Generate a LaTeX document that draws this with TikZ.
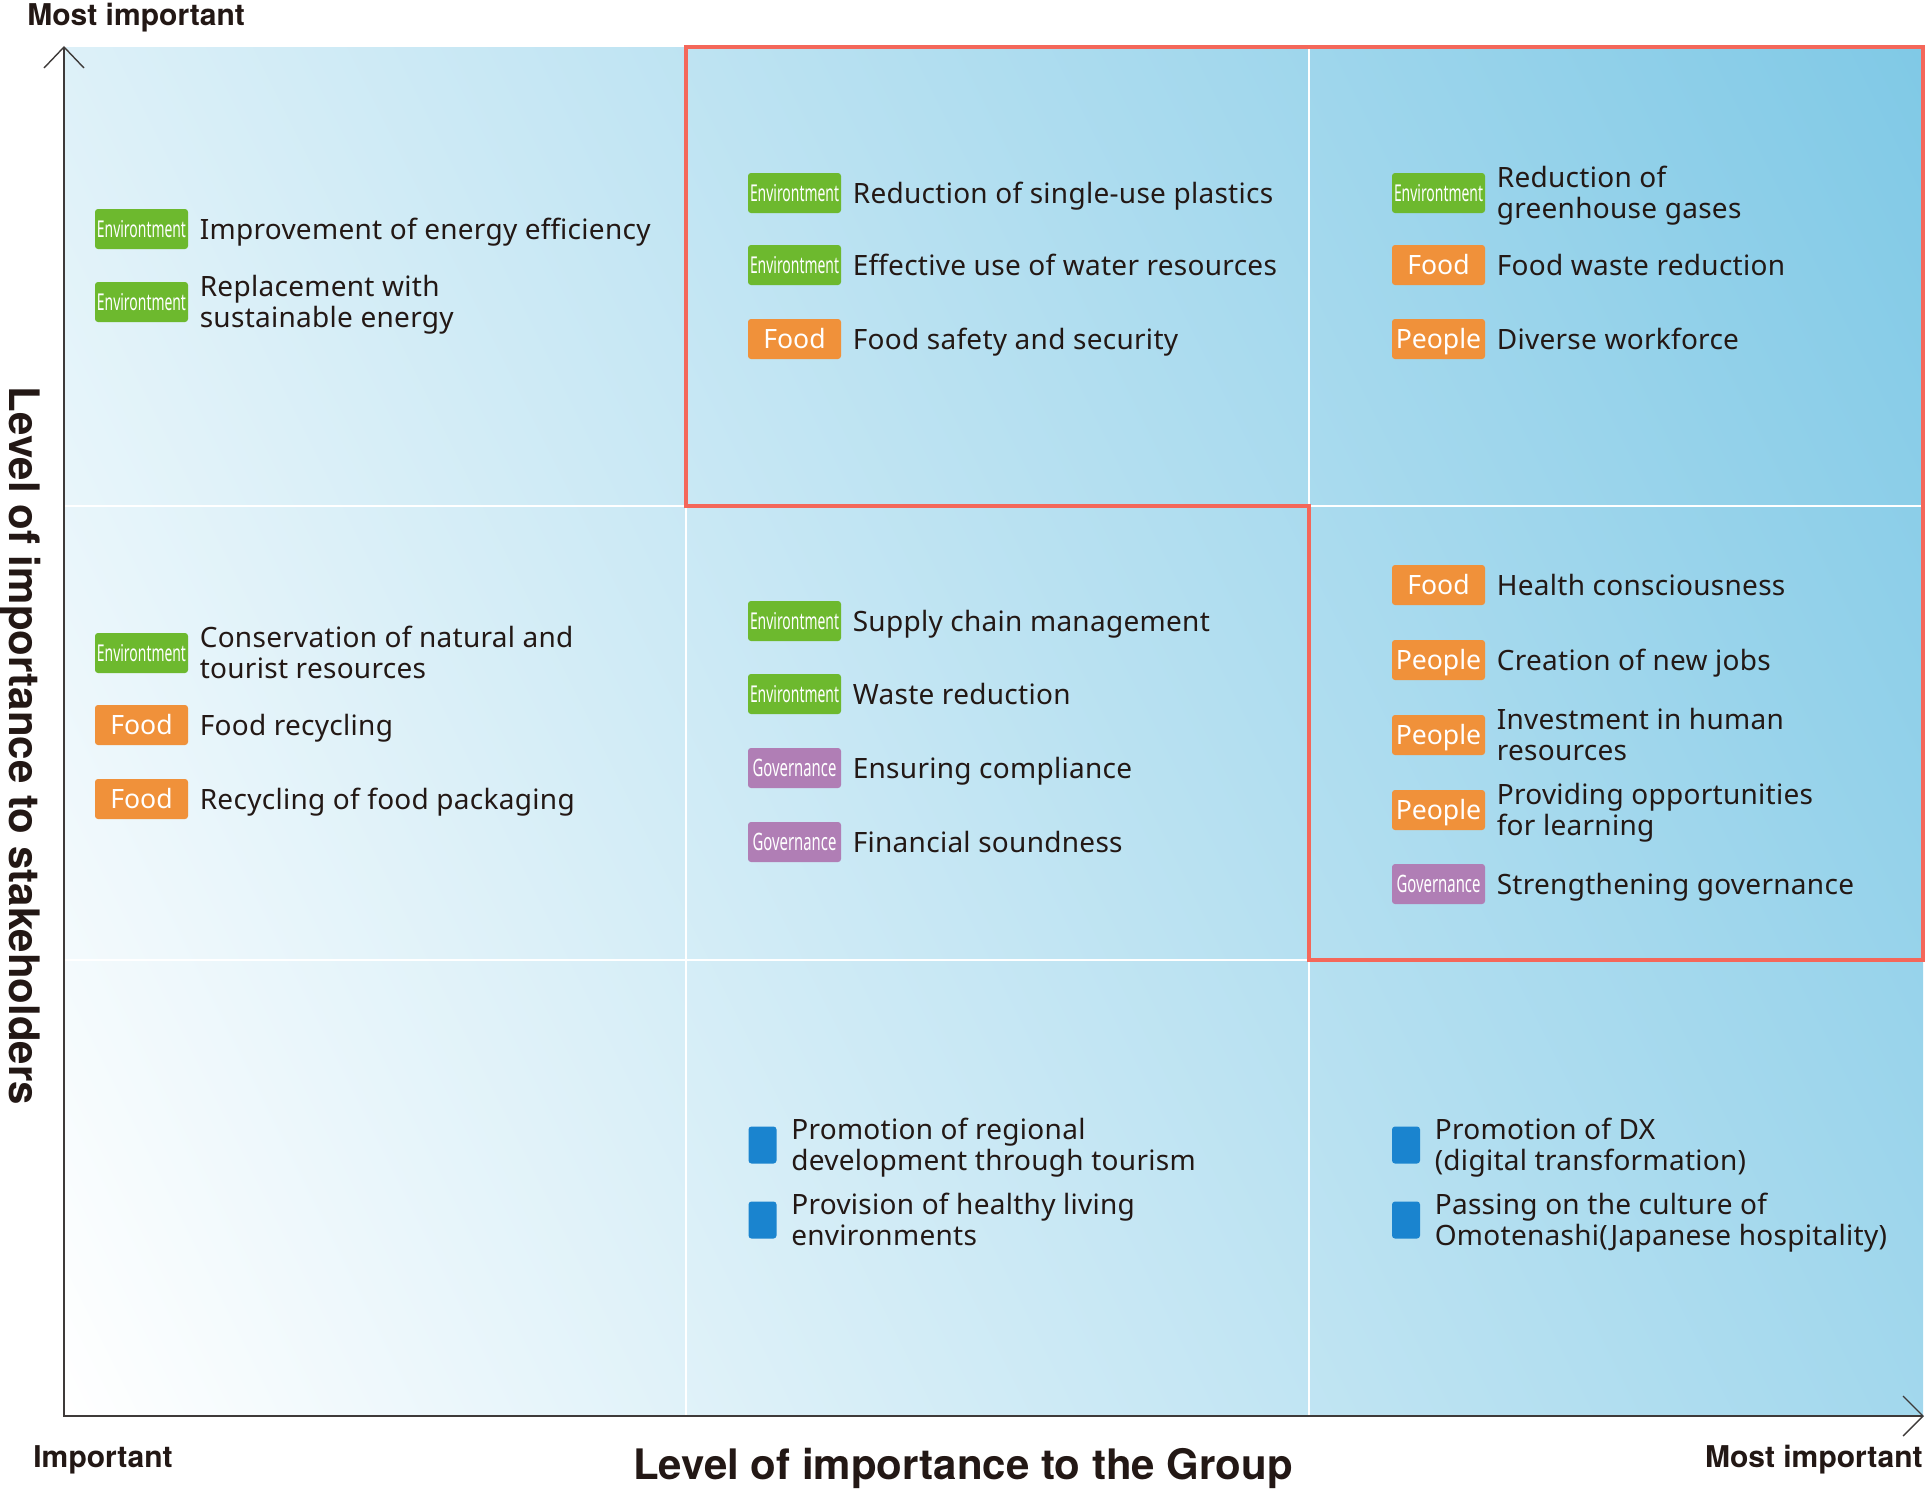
\documentclass[tikz,border=0pt]{standalone}
\usepackage{fontspec}
\usepackage{graphicx}
\setmainfont{Noto Sans}
\newfontfamily\itemfont{Noto Sans}[LetterSpace=1]
\newfontfamily\tfont{TeX Gyre Heros}
\usetikzlibrary{positioning}
\definecolor{envg}{HTML}{6DB92E}
\definecolor{foodo}{HTML}{F0913A}
\definecolor{govp}{HTML}{B07EB5}
\definecolor{bulb}{HTML}{1A84CF}
\definecolor{redl}{HTML}{F4675A}
\definecolor{txt}{HTML}{231815}
\definecolor{axisc}{HTML}{3E3A39}
\definecolor{gdark}{HTML}{80C9E6}
\newcommand\envtxt{\scalebox{0.6}[1]{Environtment}}
\newcommand\govtxt{\scalebox{0.62}[1]{Governance}}
\newcommand\bitem[5]{%
  \node[#2] (#1) at (#4) {#3};
  \node[itm] (#1t) at ([xshift=5.5pt]#1.east) {#5};
}
\newcommand\uitem[3]{%
  \node[bullet] (#1) at (#2) {};
  \node[itm] (#1t) at ([xshift=7pt]#1.east) {#3};
}
\tikzset{
  badge/.style={rounded corners=1.5pt, minimum width=46.5pt, minimum height=20pt, inner sep=0pt, text=white},
  envb/.style={badge, fill=envg, font=\fontsize{11.6}{11.6}\selectfont, text height=8.2pt, text depth=0pt},
  foodb/.style={badge, fill=foodo, font=\fontsize{13.3}{13.3}\selectfont, text height=9.5pt, text depth=0pt},
  govb/.style={badge, fill=govp, font=\fontsize{12}{12}\selectfont, text height=8.6pt, text depth=0pt},
  bullet/.style={rounded corners=1.5pt, minimum width=14pt, minimum height=18.5pt, inner sep=0pt, fill=bulb},
  itm/.style={anchor=west, inner sep=0pt, text=txt, align=left, yshift=-1.9pt,
    font=\itemfont\fontsize{14}{15.5}\selectfont, execute at begin node=\strut, execute at end node=\strut},
  small/.style={inner sep=0pt, text=txt, font=\fontsize{15}{17}\selectfont\tfont\bfseries},
  big/.style={inner sep=0pt, text=txt, font=\fontsize{21}{24}\selectfont\tfont\bfseries},
  gridl/.style={white, line width=1pt},
  axl/.style={axisc, line width=1pt},
  tipl/.style={axisc, line width=0.7pt},
}
\begin{document}
\begin{tikzpicture}[x=0.5pt,y=-0.5pt]
\useasboundingbox (0,0) rectangle (1927,1495);
% background gradient
\begin{scope}
\clip (64,47) rectangle (1923,1416);
\shade[bottom color=white, top color=gdark, shading angle=-63.43] (-143.5,-405.5) rectangle (2130.5,1868.5);
\end{scope}
% grid
\draw[gridl] (686,47) -- (686,1416);
\draw[gridl] (1309,47) -- (1309,1416);
\draw[gridl] (64,506) -- (1923,506);
\draw[gridl] (64,960) -- (1923,960);
% red outline
\draw[redl, line width=2pt, line join=miter] (686,47) -- (1923,47) -- (1923,960) -- (1309,960) -- (1309,506) -- (686,506) -- cycle;
% axes
\coordinate (O) at (64,1416);
\coordinate (Ytop) at (64,47);
\coordinate (Xend) at (1923,1416);
\draw[axl] (Ytop) -- (O) -- (Xend);
\draw[tipl] (44,68) -- (Ytop) -- (84,68);
\draw[tipl] (1903,1396) -- (Xend) -- (1903,1436);
% axis labels
\node[small, anchor=base west] (ltop) at (27,25) {Most important};
\node[small, anchor=base west] (lbl) at (33,1467) {Important};
\node[small, anchor=base east] (lbr) at (1923,1467) {Most important};
\node[big, anchor=base] (xlab) at (963,1479) {Level of importance to the Group};
\node[big, rotate=-90, anchor=base] (ylab) at (9.5,746) {Level of importance to stakeholders};
% top-left
\bitem{b11}{envb}{\envtxt}{141.5,229}{Improvement of energy efficiency}
\bitem{b12}{envb}{\envtxt}{141.5,302}{Replacement with\\sustainable energy}
% top-middle
\bitem{b21}{envb}{\envtxt}{794.5,193}{Reduction of single-use plastics}
\bitem{b22}{envb}{\envtxt}{794.5,265}{Effective use of water resources}
\bitem{b23}{foodb}{Food}{794.5,339}{Food safety and security}
% top-right
\bitem{b31}{envb}{\envtxt}{1438.5,193}{Reduction of\\greenhouse gases}
\bitem{b32}{foodb}{Food}{1438.5,265}{Food waste reduction}
\bitem{b33}{foodb}{People}{1438.5,339}{Diverse workforce}
% middle-left
\bitem{b41}{envb}{\envtxt}{141.5,653}{Conservation of natural and\\tourist resources}
\bitem{b42}{foodb}{Food}{141.5,725}{Food recycling}
\bitem{b43}{foodb}{Food}{141.5,799}{Recycling of food packaging}
% middle-middle
\bitem{b51}{envb}{\envtxt}{794.5,621}{Supply chain management}
\bitem{b52}{envb}{\envtxt}{794.5,694}{Waste reduction}
\bitem{b53}{govb}{\govtxt}{794.5,768}{Ensuring compliance}
\bitem{b54}{govb}{\govtxt}{794.5,842}{Financial soundness}
% middle-right
\bitem{b61}{foodb}{Food}{1438.5,585}{Health consciousness}
\bitem{b62}{foodb}{People}{1438.5,660}{Creation of new jobs}
\bitem{b63}{foodb}{People}{1438.5,735}{Investment in human\\resources}
\bitem{b64}{foodb}{People}{1438.5,810}{Providing opportunities\\for learning}
\bitem{b65}{govb}{\govtxt}{1438.5,884}{Strengthening governance}
% bottom
\uitem{u1}{762.5,1145}{Promotion of regional\\development through tourism}
\uitem{u2}{762.5,1220}{Provision of healthy living\\environments}
\uitem{u3}{1406,1145}{Promotion of DX\\(digital transformation)}
\uitem{u4}{1406,1220}{Passing on the culture of\\Omotenashi(Japanese hospitality)}
\end{tikzpicture}
\end{document}
